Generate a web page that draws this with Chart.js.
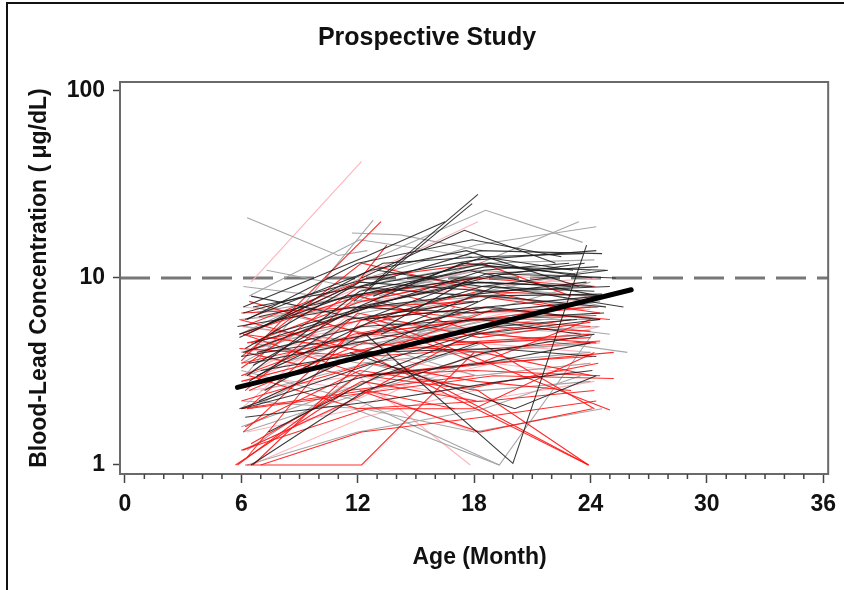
<!DOCTYPE html>
<html>
<head>
<meta charset="utf-8">
<title>Prospective Study</title>
<script src="https://cdn.jsdelivr.net/npm/chart.js@4.4.1/dist/chart.umd.min.js"></script>
<style>
  html, body { margin: 0; padding: 0; background: #fff; }
  #wrap { width: 844px; height: 590px; }
</style>
</head>
<body>
<div id="wrap"><canvas id="leadChart" width="844" height="590"></canvas></div>
<script>
// Axis ticks
const xTickValues = [0, 6, 12, 18, 24, 30, 36];
const yTickValues = [1, 10, 100];
const referenceLevel = 10;

// Mean trend (age in months, µg/dL)
const trendAges = [5.8, 26.1];
const trendValues = [2.6, 8.65];

// Individual trajectories: [age, level, age, level, ...]
const blackSubjects = [
    [12.6, 9, 18.2, 28],
    [11.8, 7.5, 17.9, 25],
    [12.4, 5, 20, 1.02, 23.8, 15],
    [12.1, 9, 18.3, 14, 24.6, 13.5],
    [6.2, 6, 12.7, 11, 17.6, 14, 23.4, 9],
    [13.2, 5, 19.1, 9, 25.7, 7],
    [11.6, 4, 20.1, 2, 24.3, 3],
    [6.6, 7, 12.2, 9, 18.8, 12, 24.1, 10],
    [5.9, 5, 11.4, 8, 18.1, 10, 23.7, 12],
    [6.8, 3, 12.9, 6, 18.4, 9, 24.9, 11],
    [6.1, 4, 12.5, 7, 17.2, 8, 23.8, 9.5],
    [7.2, 2.5, 12.3, 5, 18.7, 7, 24.4, 8],
    [6.4, 3.5, 11.9, 4.5, 17.8, 6, 24.7, 6.5],
    [5.9, 2, 12.8, 3.5, 19.2, 5.5, 23.3, 6],
    [7.4, 1.5, 13.1, 3, 18.2, 4.5],
    [6.5, 1, 12.4, 2.5, 18.6, 4, 24.2, 5],
    [6.7, 4.5, 11.7, 6.5, 18.5, 11, 22.9, 12],
    [6.1, 6.5, 12.6, 10, 18.1, 12.5, 24.3, 14],
    [7.1, 5.5, 13.3, 12, 18.4, 13, 23.1, 11],
    [6.3, 3, 12.1, 8.5, 17.7, 11, 24.5, 8],
    [6.9, 2.2, 12.3, 4, 18.9, 8, 24.8, 7],
    [5.8, 5.5, 11.8, 7, 18.0, 6.5, 24.0, 7.5],
    [6.8, 4, 12.2, 5.5, 18.3, 6, 23.5, 5],
    [6.0, 3.8, 12.7, 5, 17.5, 9.5, 24.1, 9],
    [6.4, 2.8, 11.5, 6, 18.2, 7.5],
    [12.3, 6, 18.6, 10.5, 24.4, 11.5],
    [12.8, 8, 18.5, 13, 23.6, 13.5],
    [6.3, 6, 12.0, 12, 17.9, 16, 22.5, 13],
    [12.2, 10, 17.5, 18, 22.2, 12],
    [6.1, 7, 12.4, 13, 16.5, 20],
    [13.0, 11, 18.4, 9, 24.2, 8.5],
    [6.2, 4.2, 12.1, 9.5, 18.8, 8.5, 25.0, 9],
    [12.6, 3, 18.1, 5, 24.5, 6],
    [6.0, 2, 12.5, 3, 18.5, 3.5, 24.0, 4.5],
    [7.0, 3.2, 12.5, 4, 19.0, 4.2, 24.3, 3.8],
    [6.2, 1.8, 13.0, 2.2, 19.4, 2.8, 24.1, 3.2],
    [12.0, 7, 18.2, 9.5, 23.0, 9],
    [6.5, 8, 12.3, 6, 18.7, 7, 24.5, 6],
    [7.5, 5, 13.4, 7.5, 19.5, 10.5, 25.3, 10],
    [6.6, 3.4, 12.0, 7, 17.4, 12, 23.2, 10.5],
    [5.9, 4.8, 11.6, 9, 18.0, 8, 24.6, 8.2],
    [6.9, 6.2, 12.9, 8.5, 18.6, 11.5, 24.8, 11]
];

const graySubjects = [
    [6.3, 21, 11, 13.2, 12.5, 14],
    [12.3, 12, 18.6, 23, 23.6, 15.5],
    [12.5, 10, 18.1, 15, 24.3, 18.8],
    [13.1, 8, 18.3, 12, 23.4, 20],
    [11.8, 2, 19.3, 1, 24.1, 5],
    [13.3, 6, 19.2, 5, 25.9, 4],
    [6.2, 3, 12.8, 20.4],
    [6.4, 8, 12.1, 16, 17.9, 13],
    [11.7, 17.4, 14.2, 17, 18.4, 14],
    [6.0, 4, 12.3, 6, 18.2, 5, 24.4, 5.5],
    [6.5, 2, 11.9, 4, 18.6, 6, 24.5, 7.5],
    [6.1, 1.5, 12.6, 2.5, 17.8, 3.5, 24.0, 4],
    [5.9, 5, 12.2, 10, 18.4, 9, 23.8, 8],
    [6.2, 3, 12.7, 5, 18.1, 7, 24.2, 6],
    [7.0, 2.5, 12.5, 3.5, 18.3, 2.5, 24.0, 2.8],
    [6.3, 1, 12.0, 1.5, 18.5, 2, 23.5, 3],
    [6.0, 6, 12.4, 7, 18.5, 8, 24.3, 7],
    [6.5, 4.5, 12.1, 3.5, 17.7, 4, 24.1, 4.5],
    [6.1, 2.2, 12.3, 2, 18.0, 1.5, 24.6, 2],
    [6.7, 7, 12.6, 5, 18.8, 5.5, 24.2, 6.5],
    [12.1, 4, 18.3, 6.5, 24.0, 9.5],
    [6.0, 3.5, 12.5, 8, 18.2, 11, 24.5, 10],
    [6.4, 2.8, 12.2, 6.5, 18.6, 8.5, 24.0, 11],
    [6.3, 1.2, 12.0, 3, 17.0, 7],
    [6.1, 9, 12.3, 7.5, 18.0, 10],
    [12.0, 9, 18.5, 12, 24.2, 12.5],
    [6.2, 5.5, 12.4, 4.5, 18.1, 3, 24.0, 3.5],
    [7.0, 4, 13.0, 4.5, 19.0, 6, 25.0, 5],
    [6.0, 3.2, 12.1, 2.2, 19.3, 1],
    [12.2, 6, 18.4, 8, 23.1, 9],
    [6.5, 6.5, 11.9, 8, 18.3, 6, 24.5, 6],
    [6.0, 1.6, 12.5, 2.8, 18.5, 4.5, 24.2, 5],
    [7.3, 11, 12.8, 8.5, 18.9, 9.5, 24.8, 7]
];

const redSubjects = [
    [6.0, 3.6, 13.2, 20],
    [6.2, 1, 12.2, 1, 18.0, 4],
    [6.0, 1.2, 12.5, 2, 18.0, 2, 24.2, 4],
    [12.3, 4, 23.9, 1],
    [14.0, 3.5, 23.9, 1],
    [6.1, 5, 12.4, 3, 18.2, 2.5, 23.9, 1],
    [13.0, 6, 25.0, 1.97],
    [6.3, 2, 19.0, 3, 25.2, 2.9],
    [12.5, 3, 19.1, 3.5, 25.2, 4],
    [5.9, 5, 12.1, 8, 18.5, 5, 24.3, 4.5],
    [6.2, 4, 12.6, 7, 18.1, 6, 24.0, 5.5],
    [6.0, 3, 11.8, 5, 17.6, 6.5, 24.4, 7],
    [6.4, 2.5, 12.3, 4.5, 18.4, 4, 24.1, 3],
    [5.8, 1, 12.0, 3, 18.3, 3.5, 24.0, 6],
    [6.6, 1, 12.7, 4, 18.0, 5, 23.0, 6],
    [6.3, 1.1, 12.2, 6, 18.6, 7],
    [5.7, 1, 11.5, 2.5, 18.0, 3],
    [6.0, 2, 12.4, 2.5, 17.0, 2],
    [6.1, 1.5, 12.0, 5.5, 18.2, 8, 24.5, 6.5],
    [6.3, 5, 12.5, 10, 18.4, 12, 23.0, 8],
    [6.5, 4.5, 12.2, 7.5, 18.0, 10, 24.2, 9],
    [6.0, 3.3, 12.1, 9, 18.5, 6.5],
    [6.2, 4, 11.5, 3, 18.0, 3.2, 24.5, 3],
    [5.9, 6, 12.3, 4, 18.3, 4.5, 24.0, 4.8],
    [6.4, 3, 12.0, 2, 18.6, 2.2, 24.2, 2.5],
    [6.0, 2.2, 12.6, 3.5, 18.1, 2.8, 23.0, 2.5],
    [7.0, 1, 12.2, 1.5, 18.4, 1.8, 24.3, 2.2],
    [6.1, 1.2, 12.0, 2.3, 17.0, 4.5, 24.0, 5],
    [6.3, 4.5, 12.4, 6, 18.2, 8.5, 24.6, 8],
    [6.0, 2.8, 12.5, 4.2, 18.5, 5.5, 24.0, 5.2],
    [6.2, 2.5, 12.0, 8, 18.0, 10],
    [6.0, 3.8, 12.2, 12, 17.5, 9, 22.5, 7],
    [6.1, 5.5, 12.0, 9.5, 13.5, 15],
    [12.4, 6, 18.2, 3.5, 24.1, 3.8],
    [12.0, 5, 18.5, 6, 24.3, 6.3],
    [6.4, 7.5, 12.3, 5, 18.0, 6, 24.0, 7],
    [6.0, 3.5, 12.6, 5, 18.3, 4.5, 24.2, 2],
    [6.2, 1.6, 12.1, 3.2, 18.0, 2.6, 24.4, 3.5],
    [5.9, 4.2, 12.4, 3.8, 19.0, 4.2, 24.5, 4.6],
    [6.3, 2, 12.0, 6.5, 18.3, 4.8, 24.0, 5.8],
    [6.5, 1.3, 12.2, 2.8, 18.1, 2.2],
    [6.0, 6.5, 12.5, 7, 18.0, 7.5],
    [6.1, 5, 13.0, 4, 19.0, 6.8, 25.0, 6],
    [12.1, 2.5, 18.3, 1.5, 24.1, 2]
];

const pinkSubjects = [
    [6.5, 9.5, 12.2, 42],
    [12.0, 3, 17.8, 1],
    [6.1, 2, 12.3, 4, 18.2, 3, 24.0, 3.5],
    [6.0, 3, 12.1, 6, 18.5, 7, 24.3, 6],
    [6.3, 1.5, 12.0, 2, 18.1, 4, 24.5, 4.5],
    [6.0, 4, 12.5, 5, 18.0, 5.5, 24.1, 5],
    [6.2, 5, 12.2, 9, 18.4, 8, 24.0, 7],
    [6.4, 2.5, 12.0, 3, 18.2, 2.2, 24.2, 2.8],
    [6.5, 1, 12.3, 1.8, 18.0, 2.5],
    [6.0, 6, 12.4, 7.5, 18.3, 9, 24.4, 10],
    [6.2, 3.5, 12.1, 4, 18.0, 6, 24.1, 8],
    [6.0, 2, 12.0, 7, 18.2, 10],
    [6.1, 7, 12.2, 6, 18.5, 5],
    [7.0, 4.5, 12.5, 5.5, 18.1, 4.5, 24.0, 4],
    [6.0, 1.2, 13.0, 2.5, 19.0, 3.5, 24.2, 3],
    [12.2, 8, 18.0, 11, 24.3, 9],
    [6.3, 3, 12.5, 2.5, 18.0, 1.5],
    [6.0, 5.5, 12.0, 4.5, 18.4, 6.5, 24.0, 6.8],
    [6.2, 2.8, 12.3, 5, 18.1, 3.8, 24.5, 5.5],
    [12.0, 10, 18.2, 20]
];

// axis window: a few pixels of air around 0-36 and 1-100, like the SAS frame
const xMin = -0.256, xMax = 36.82, xFrameRight = 36.256;
const yMin = 0.895, yMax = 111.7;

function toPoints(flat) {
    const pts = [];
    for (let i = 0; i < flat.length; i += 2) {
        pts.push({ x: flat[i], y: flat[i + 1] });
    }
    return pts;
}

function subjectSets(list, color, order) {
    return list.map(flat => ({
        data: toPoints(flat),
        borderColor: color,
        borderWidth: 1.1,
        order: order
    }));
}

const datasets = [
    {
        data: trendAges.map((a, i) => ({ x: a, y: trendValues[i] })),
        borderColor: '#000',
        borderWidth: 5,
        borderCapStyle: 'round',
        order: 0
    },
    ...subjectSets(blackSubjects, 'rgba(25,25,25,0.85)', 1),
    ...subjectSets(redSubjects, 'rgba(255,20,20,0.9)', 2),
    ...subjectSets(graySubjects, '#a6a6a6', 3),
    ...subjectSets(pinkSubjects, '#ffb4bc', 4),
    {
        data: [{ x: xMin, y: referenceLevel }, { x: xFrameRight, y: referenceLevel }],
        borderColor: '#777',
        borderWidth: 3,
        borderDash: [30, 11],
        order: 5
    }
];

// outer picture border and plot frame, minor ticks
const framePlugin = {
    id: 'frame',
    beforeDraw(chart) {
        const ctx = chart.ctx;
        ctx.save();
        ctx.strokeStyle = '#111';
        ctx.lineWidth = 2;
        ctx.beginPath();
        ctx.moveTo(7, 590);
        ctx.lineTo(7, 3);
        ctx.lineTo(844, 3);
        ctx.stroke();
        ctx.restore();
    },
    afterDraw(chart) {
        const ctx = chart.ctx;
        const x = chart.scales.x;
        const left = chart.chartArea.left, top = chart.chartArea.top, bottom = chart.chartArea.bottom;
        const right = x.getPixelForValue(xFrameRight);
        ctx.save();
        ctx.strokeStyle = '#6a6a6a';
        ctx.lineWidth = 2;
        ctx.strokeRect(left, top, right - left, bottom - top);
        ctx.strokeStyle = '#444';
        ctx.lineWidth = 1.5;
        ctx.beginPath();
        for (let m = 0; m <= 36; m++) {
            if (m % 6 === 0) continue;
            const px = x.getPixelForValue(m);
            ctx.moveTo(px, bottom);
            ctx.lineTo(px, bottom + 5);
        }
        ctx.stroke();
        ctx.restore();
    }
};

Chart.defaults.font.family = "'Liberation Sans', Arial, sans-serif";
Chart.defaults.color = '#111';

new Chart(document.getElementById('leadChart').getContext('2d'), {
    type: 'line',
    data: { datasets: datasets },
    options: {
        responsive: false,
        animation: false,
        events: [],
        layout: { padding: { left: 10, right: 0, top: 0, bottom: 0 } },
        elements: {
            point: { radius: 0 },
            line: { tension: 0, fill: false }
        },
        plugins: {
            legend: { display: false },
            tooltip: { enabled: false },
            title: {
                display: true,
                text: 'Prospective Study',
                color: '#111',
                font: { size: 25, weight: 'bold' },
                padding: { top: 23, bottom: 29 }
            }
        },
        scales: {
            x: {
                type: 'linear',
                min: xMin,
                max: xMax,
                afterBuildTicks: scale => { scale.ticks = xTickValues.map(v => ({ value: v })); },
                afterFit: scale => { scale.height = 116; },
                ticks: {
                    font: { size: 23, weight: 'bold' },
                    color: '#111',
                    padding: 8,
                    maxRotation: 0,
                    callback: v => String(v)
                },
                grid: {
                    drawOnChartArea: false,
                    drawTicks: true,
                    tickLength: 9,
                    tickColor: '#444',
                    tickWidth: 1.5
                },
                border: { display: false },
                title: {
                    display: true,
                    text: 'Age (Month)',
                    color: '#111',
                    font: { size: 23, weight: 'bold' },
                    padding: { top: 0, bottom: 19 }
                }
            },
            y: {
                type: 'logarithmic',
                min: yMin,
                max: yMax,
                afterBuildTicks: scale => { scale.ticks = yTickValues.map(v => ({ value: v })); },
                afterFit: scale => { scale.width = 110; },
                ticks: {
                    font: { size: 23, weight: 'bold' },
                    color: '#111',
                    padding: 8,
                    callback: v => String(v)
                },
                grid: {
                    drawOnChartArea: false,
                    drawTicks: true,
                    tickLength: 7,
                    tickColor: '#444',
                    tickWidth: 1.5
                },
                border: { display: false },
                title: {
                    display: true,
                    text: 'Blood-Lead Concentration ( μg/dL)',
                    color: '#111',
                    font: { size: 23, weight: 'bold' },
                    padding: { top: 16, bottom: 0 }
                }
            }
        }
    },
    plugins: [framePlugin]
});
</script>
</body>
</html>
